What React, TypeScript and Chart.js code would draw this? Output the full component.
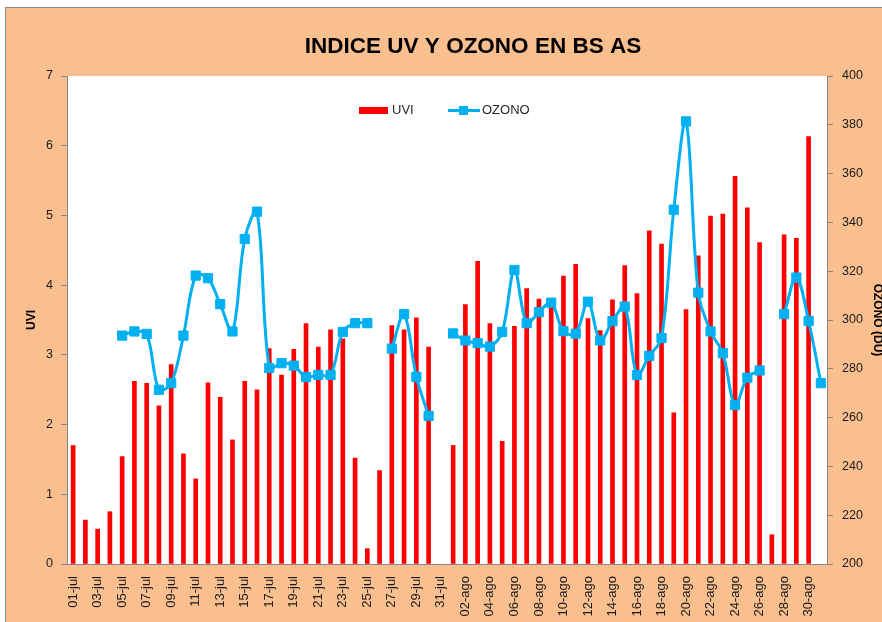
import React, { useEffect, useRef } from "react";
import { Chart, registerables } from "chart.js";

Chart.register(...registerables);

const categories: string[] = [
  "01-jul","02-jul","03-jul","04-jul","05-jul","06-jul","07-jul","08-jul","09-jul","10-jul",
  "11-jul","12-jul","13-jul","14-jul","15-jul","16-jul","17-jul","18-jul","19-jul","20-jul",
  "21-jul","22-jul","23-jul","24-jul","25-jul","26-jul","27-jul","28-jul","29-jul","30-jul","31-jul",
  "01-ago","02-ago","03-ago","04-ago","05-ago","06-ago","07-ago","08-ago","09-ago","10-ago",
  "11-ago","12-ago","13-ago","14-ago","15-ago","16-ago","17-ago","18-ago","19-ago","20-ago",
  "21-ago","22-ago","23-ago","24-ago","25-ago","26-ago","27-ago","28-ago","29-ago","30-ago","31-ago",
];

const uviJul: (number | null)[] = [
  1.70, 0.63, 0.50, 0.75, 1.54, 2.62, 2.59, 2.27, 2.86, 1.58,
  1.22, 2.60, 2.39, 1.78, 2.62, 2.50, 3.09, 2.71, 3.08, 3.45,
  3.11, 3.36, 3.23, 1.52, 0.22, 1.34, 3.42, 3.36, 3.53, 3.11, null,
];
const uviAgo: (number | null)[] = [
  1.70, 3.72, 4.34, 3.45, 1.76, 3.41, 3.95, 3.80, 3.78, 4.13,
  4.30, 3.52, 3.35, 3.79, 4.28, 3.88, 4.78, 4.59, 2.17, 3.65,
  4.42, 4.99, 5.02, 5.56, 5.11, 4.61, 0.42, 4.72, 4.67, 6.13, null,
];

const ozonoJul: (number | null)[] = [
  null, null, null, null, 293.6, 295.3, 294.3, 271.4, 274.1, 293.6,
  318.2, 317.1, 306.5, 295.3, 333.2, 344.4, 280.3, 282.3, 281.3, 276.6,
  277.5, 277.5, 295.1, 298.7, 298.7, null, 288.3, 302.4, 276.7, 260.7, null,
];
const ozonoAgo: (number | null)[] = [
  294.5, 291.6, 290.5, 289.1, 295.1, 320.5, 298.7, 303.2, 307.1, 295.4,
  294.4, 307.5, 291.6, 299.5, 305.5, 277.4, 285.3, 292.6, 345.2, 381.4,
  311.2, 295.3, 286.4, 265.1, 276.4, 279.3, null, 302.4, 317.4, 299.6, 274.1,
];

const uvi = [...uviJul, ...uviAgo];
const ozono = [...ozonoJul, ...ozonoAgo];

const TITLE = "INDICE UV Y OZONO EN BS AS";
const FONT = "'Liberation Sans', Arial, sans-serif";
const AXIS_GRAY = "#868686";
const PEACH = "#FABF8F";
const RED = "#FF0000";
const BLUE = "#00B0F0";

const plotBg = {
  id: "plotBg",
  beforeDraw(chart: any) {
    const { ctx, chartArea } = chart;
    ctx.save();
    ctx.fillStyle = "#ffffff";
    ctx.fillRect(chartArea.left, chartArea.top, chartArea.right - chartArea.left, chartArea.bottom - chartArea.top);
    ctx.restore();
  },
};

export default function App() {
  const ref = useRef<HTMLCanvasElement | null>(null);

  useEffect(() => {
    if (!ref.current) return;
    Chart.defaults.font.family = FONT;
    const chart = new Chart(ref.current, {
      type: "bar",
      data: {
        labels: categories,
        datasets: [
          {
            type: "line",
            label: "OZONO",
            data: ozono,
            yAxisID: "y1",
            borderColor: BLUE,
            backgroundColor: BLUE,
            borderWidth: 3,
            pointStyle: "rect",
            pointRadius: 6.5,
            pointBackgroundColor: BLUE,
            pointBorderColor: BLUE,
            pointBorderWidth: 1,
            tension: 0.35,
            spanGaps: false,
            order: 0,
          } as any,
          {
            type: "bar",
            label: "UVI",
            data: uvi,
            yAxisID: "y",
            backgroundColor: RED,
            barThickness: 4,
            order: 1,
          } as any,
        ],
      },
      options: {
        responsive: false,
        animation: false,
        layout: { padding: 0 },
        plugins: {
          legend: { display: false },
          tooltip: { enabled: false },
          title: {
            display: true,
            text: TITLE,
            color: "#000",
            font: { family: FONT, size: 22.5, weight: "bold" },
            padding: { top: 33, bottom: 16 },
          },
        },
        scales: {
          x: {
            type: "category",
            offset: true,
            grid: { display: false, drawTicks: false },
            border: { display: true, color: AXIS_GRAY, width: 1 },
            ticks: {
              autoSkip: false,
              maxRotation: 90,
              minRotation: 90,
              padding: 12,
              color: "#1a1a1a",
              font: { size: 13 },
              callback: (_v: any, i: number) => (i % 2 === 0 ? categories[i] : ""),
            },
            afterFit: (s: any) => {
              s.height = 76;
            },
          },
          y: {
            position: "left",
            min: 0,
            max: 7,
            ticks: { stepSize: 1, padding: 8, color: "#1a1a1a", font: { size: 12.5 } },
            grid: { drawOnChartArea: false, tickLength: 6, color: AXIS_GRAY },
            border: { display: true, color: AXIS_GRAY, width: 1 },
            title: {
              display: true,
              text: "UVI",
              color: "#000",
              font: { size: 12, weight: "bold" },
              padding: { top: 24, bottom: 0 },
            },
            afterFit: (s: any) => {
              s.width = 67;
            },
          },
          y1: {
            position: "right",
            min: 200,
            max: 400,
            ticks: { stepSize: 20, padding: 9, color: "#1a1a1a", font: { size: 12.5 } },
            grid: { drawOnChartArea: false, tickLength: 6, color: AXIS_GRAY },
            border: { display: true, color: AXIS_GRAY, width: 1 },
            title: {
              display: true,
              text: "OZONO (DU)",
              color: "#000",
              font: { size: 12, weight: "bold" },
              padding: { top: 61, bottom: 0 },
            },
            afterFit: (s: any) => {
              s.width = 119;
            },
          },
        },
      } as any,
      plugins: [plotBg],
    });
    return () => chart.destroy();
  }, []);

  const legendText: React.CSSProperties = {
    position: "absolute",
    top: 102,
    height: 16,
    lineHeight: "16px",
    fontFamily: FONT,
    fontSize: 13,
    color: "#262626",
    whiteSpace: "nowrap",
  };

  return (
    <div style={{ position: "fixed", left: 0, top: 0, width: 882, height: 622, overflow: "hidden", background: "#fff" }}>
      <div
        style={{
          position: "absolute",
          left: 5,
          top: 7,
          width: 1000,
          height: 700,
          background: PEACH,
          border: "1px solid #8a8a8a",
        }}
      />
      <canvas ref={ref} width={946} height={640} style={{ position: "absolute", left: 0, top: 0, width: 946, height: 640 }} />
      <div style={{ position: "absolute", left: 359, top: 107, width: 29, height: 7, background: RED }} />
      <div style={{ ...legendText, left: 392 }}>UVI</div>
      <div style={{ position: "absolute", left: 448, top: 109, width: 32, height: 3, background: BLUE }} />
      <div style={{ position: "absolute", left: 459, top: 106, width: 9, height: 9, background: BLUE }} />
      <div style={{ ...legendText, left: 482 }}>OZONO</div>
    </div>
  );
}
